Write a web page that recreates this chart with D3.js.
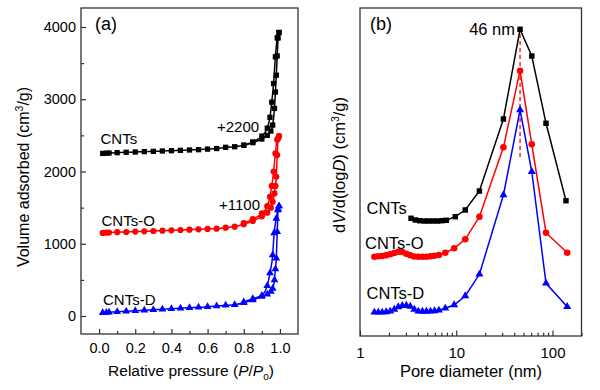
<!DOCTYPE html>
<html><head><meta charset="utf-8">
<script src="https://cdn.jsdelivr.net/npm/d3@7"></script>
<style>body{margin:0;background:#fff} svg{display:block} text{font-family:"Liberation Sans",Arial,sans-serif;fill:#000}</style>
</head><body><svg id="c" width="600" height="390"></svg>
<script>
// ---------- Panel (a): N2 isotherms (values include the +2200 / +1100 offsets) ----------
const cntsAdsP = [0.02,0.04,0.055,0.1,0.15,0.2,0.25,0.3,0.35,0.4,0.45,0.5,0.55,0.6,0.65,0.7,0.75,0.8,0.85,0.9,0.93,0.95,0.96,0.97,0.975,0.98,0.985,0.99,0.995];
const cntsAdsV = [2250,2253,2256,2261,2266,2270,2275,2279,2284,2288,2293,2298,2302,2310,2318,2335,2343,2362,2399,2450,2500,2560,2642,2873,3100,3333,3600,3849,3924];
const cntsDesP = [0.8,0.85,0.9,0.93,0.945,0.955,0.965,0.975,0.985,0.995];
const cntsDesV = [2365,2410,2490,2600,2750,2960,3218,3587,3850,3924];

const cntsOAdsP = [0.02,0.04,0.055,0.1,0.15,0.2,0.25,0.3,0.35,0.4,0.45,0.5,0.55,0.6,0.65,0.7,0.75,0.8,0.85,0.9,0.93,0.95,0.96,0.97,0.975,0.98,0.985,0.99,0.995];
const cntsOAdsV = [1150,1153,1156,1160,1163,1168,1172,1177,1181,1186,1190,1195,1200,1205,1209,1223,1236,1270,1315,1380,1430,1500,1581,1697,1800,1927,2227,2458,2490];
const cntsODesP = [0.8,0.85,0.9,0.93,0.945,0.955,0.965,0.975,0.985,0.995];
const cntsODesV = [1285,1340,1420,1520,1651,1800,2000,2250,2440,2490];

const cntsDAdsP = [0.02,0.04,0.055,0.1,0.15,0.2,0.25,0.3,0.35,0.4,0.45,0.5,0.55,0.6,0.65,0.7,0.75,0.8,0.85,0.9,0.93,0.95,0.96,0.97,0.975,0.98,0.985,0.99,0.995];
const cntsDAdsV = [46,50,53,60,65,74,80,88,95,101,108,115,120,129,138,148,157,185,221,270,300,340,380,498,650,800,1166,1466,1521];
const cntsDDesP = [0.8,0.85,0.9,0.93,0.945,0.96,0.968,0.98,0.99,0.995];
const cntsDDesV = [195,240,285,420,595,844,1148,1350,1480,1521];

const xTicksA = [0.0,0.2,0.4,0.6,0.8,1.0];
const yTicksA = [0,1000,2000,3000,4000];

// ---------- Panel (b): pore size distribution (arbitrary units) ----------
const cntsD  = [3.39,3.76,4.17,4.66,5.16,5.74,6.40,7.11,7.88,9.77,12.4,17.4,30.9,46,60.9,85.6,138];
const cntsPV = [117.7,116,115.3,115,115,115,115,115.3,115.7,119.3,126,145,217,306.7,280,212.7,135.3];
const poreD  = [1.41,1.55,1.70,1.87,2.06,2.27,2.50,2.75,3.03,3.33,3.67,4.04,4.45,4.90,5.40,5.95,6.6,7.7,9.5,12.4,17.4,30.9,46,60.9,85.6,142];
const cntsOPV = [79.3,79.7,80,80.7,81.7,83,84.3,84,82.3,80.7,79.5,79.3,79.3,79.3,79.7,80.3,81,83.3,87.7,96.7,119.3,188.7,265.3,191.7,103.3,83.3];
const cntsDPV = [23.7,23.7,23.7,24,24.7,26.5,29,30.3,30.5,29.5,26.5,24.7,24.5,24.5,24.7,25,25.7,27.7,31,40,61.7,141,226,164.3,52.7,29.3];
const xTicksB = [1,10,100];
const peakD = 46;
const peakLine = [179, 311];

const svg = d3.select("#c");
const colors = {k:"#000000", r:"#ff0000", b:"#0000ff"};
const FONT = "Liberation Sans, Arial, sans-serif";

// ---------- Panel (a) ----------
const xA = d3.scaleLinear([-0.1,1.1],[81,298]);
const yA = d3.scaleLinear([-249,4263],[334,8]);
const gA = svg.append("g");

gA.append("g").attr("transform","translate(0,334)")
  .call(d3.axisBottom(xA).tickValues(xTicksA).tickFormat(d3.format(".1f")).tickSize(-5).tickPadding(9))
  .call(g=>{g.select(".domain").remove(); g.selectAll("text").attr("font-size","14.5px").attr("font-family",FONT);});
gA.append("g").attr("transform","translate(0,334)")
  .call(d3.axisBottom(xA).tickValues(d3.range(0.1,1.0,0.2)).tickFormat("").tickSize(-3))
  .call(g=>g.select(".domain").remove());
gA.append("g").attr("transform","translate(81,0)")
  .call(d3.axisLeft(yA).tickValues(yTicksA).tickFormat(d3.format("d")).tickSize(-5).tickPadding(5))
  .call(g=>{g.select(".domain").remove(); g.selectAll("text").attr("font-size","14.5px").attr("font-family",FONT);});
gA.append("g").attr("transform","translate(81,0)")
  .call(d3.axisLeft(yA).tickValues([500,1500,2500,3500]).tickFormat("").tickSize(-3))
  .call(g=>g.select(".domain").remove());
gA.selectAll(".tick line").attr("stroke","#222").attr("stroke-width",1.1);
gA.append("rect").attr("x",81).attr("y",8).attr("width",298-81).attr("height",334-8)
  .attr("fill","none").attr("stroke","#333").attr("stroke-width",1.3);

const lineA = d3.line().x(d=>xA(d[0])).y(d=>yA(d[1])).curve(d3.curveMonotoneX);
const zip = (a,b)=>a.map((v,i)=>[v,b[i]]);
const seriesA = [
  {ads:zip(cntsAdsP,cntsAdsV), des:zip(cntsDesP,cntsDesV), c:colors.k, sym:d3.symbolSquare, size:28},
  {ads:zip(cntsOAdsP,cntsOAdsV), des:zip(cntsODesP,cntsODesV), c:colors.r, sym:d3.symbolCircle, size:30},
  {ads:zip(cntsDAdsP,cntsDAdsV), des:zip(cntsDDesP,cntsDDesV), c:colors.b, sym:d3.symbolTriangle, size:26}
];
seriesA.forEach(s=>{
  [s.ads,s.des].forEach(br=>{
    gA.append("path").attr("d",lineA(br)).attr("fill","none").attr("stroke",s.c).attr("stroke-width",1.5);
  });
  gA.append("g").selectAll("path").data(s.ads.concat(s.des)).join("path")
    .attr("d",d3.symbol(s.sym,s.size)).attr("fill",s.c)
    .attr("transform",d=>`translate(${xA(d[0])},${yA(d[1])})`);
});

const tA = (x,y,txt,fs)=>gA.append("text").attr("x",x).attr("y",y).attr("font-size",fs).text(txt);
tA(95,30,"(a)","18px");
tA(100.5,144,"CNTs","15px");
tA(217,132,"+2200","15px");
tA(101.5,226,"CNTs-O","15px");
tA(219,210,"+1100","15px");
tA(103,305,"CNTs-D","15px");

const xlabA = gA.append("text").attr("x",191).attr("y",376).attr("text-anchor","middle").attr("font-size","15.5px");
xlabA.append("tspan").text("Relative pressure (");
xlabA.append("tspan").attr("font-style","italic").text("P");
xlabA.append("tspan").text("/");
xlabA.append("tspan").attr("font-style","italic").text("P");
xlabA.append("tspan").attr("font-size","10px").attr("dy",4).text("o");
xlabA.append("tspan").attr("dy",-4).text(")");

const ylabA = gA.append("text").attr("transform","translate(29,177) rotate(-90)").attr("text-anchor","middle").attr("font-size","16px");
ylabA.append("tspan").text("Volume adsorbed (cm");
ylabA.append("tspan").attr("font-size","10.5px").attr("dy",-6).text("3");
ylabA.append("tspan").attr("dy",6).text("/g)");

// ---------- Panel (b) ----------
const xB = d3.scaleLog([1,200],[360,581.5]);
const yB = d3.scaleLinear([0,328],[336,8]);
const gB = svg.append("g");

gB.append("g").attr("transform","translate(0,336)")
  .call(d3.axisBottom(xB).tickValues(xTicksB).tickFormat(d3.format("d")).tickSize(-5.5).tickPadding(11))
  .call(g=>{g.select(".domain").remove(); g.selectAll("text").attr("font-size","15px").attr("font-family",FONT);});
const minorB = [2,3,4,5,6,7,8,9,20,30,40,50,60,70,80,90,200];
gB.append("g").attr("transform","translate(0,336)")
  .call(d3.axisBottom(xB).tickValues(minorB).tickFormat("").tickSize(-3.3))
  .call(g=>g.select(".domain").remove());
gB.selectAll(".tick line").attr("stroke","#222").attr("stroke-width",1.1);
gB.append("rect").attr("x",360).attr("y",8).attr("width",581.5-360).attr("height",336-8)
  .attr("fill","none").attr("stroke","#333").attr("stroke-width",1.3);

gB.append("line").attr("x1",xB(peakD)).attr("x2",xB(peakD)).attr("y1",yB(peakLine[0])).attr("y2",yB(peakLine[1]))
  .attr("stroke",colors.r).attr("stroke-width",1.3).attr("stroke-dasharray","4,3");

const lineB = d3.line().x(d=>xB(d[0])).y(d=>yB(d[1]));
const seriesB = [
  {d:zip(cntsD,cntsPV), c:colors.k, sym:d3.symbolSquare, size:30},
  {d:zip(poreD,cntsOPV), c:colors.r, sym:d3.symbolCircle, size:34},
  {d:zip(poreD,cntsDPV), c:colors.b, sym:d3.symbolTriangle, size:28}
];
seriesB.forEach(s=>{
  gB.append("path").attr("d",lineB(s.d)).attr("fill","none").attr("stroke",s.c).attr("stroke-width",1.5);
  gB.append("g").selectAll("path").data(s.d).join("path")
    .attr("d",d3.symbol(s.sym,s.size)).attr("fill",s.c)
    .attr("transform",d=>`translate(${xB(d[0])},${yB(d[1])})`);
});

const tB = (x,y,txt,fs,anchor)=>gB.append("text").attr("x",x).attr("y",y).attr("font-size",fs).attr("text-anchor",anchor||"start").text(txt);
tB(370,30,"(b)","18px");
tB(515,35,"46 nm","16.5px","end");
tB(366.5,214,"CNTs","16.5px");
tB(365,249,"CNTs-O","16.5px");
tB(366.5,299,"CNTs-D","16.5px");

gB.append("text").attr("x",471).attr("y",377).attr("text-anchor","middle").attr("font-size","16.5px").text("Pore diameter (nm)");

const ylabB = gB.append("text").attr("transform","translate(345,165) rotate(-90)").attr("text-anchor","middle").attr("font-size","16.5px");
ylabB.append("tspan").text("d");
ylabB.append("tspan").attr("font-style","italic").text("V");
ylabB.append("tspan").text("/d(log");
ylabB.append("tspan").attr("font-style","italic").text("D");
ylabB.append("tspan").text(") (cm");
ylabB.append("tspan").attr("font-size","10.5px").attr("dy",-6).text("3");
ylabB.append("tspan").attr("dy",6).text("/g)");
</script></body></html>
